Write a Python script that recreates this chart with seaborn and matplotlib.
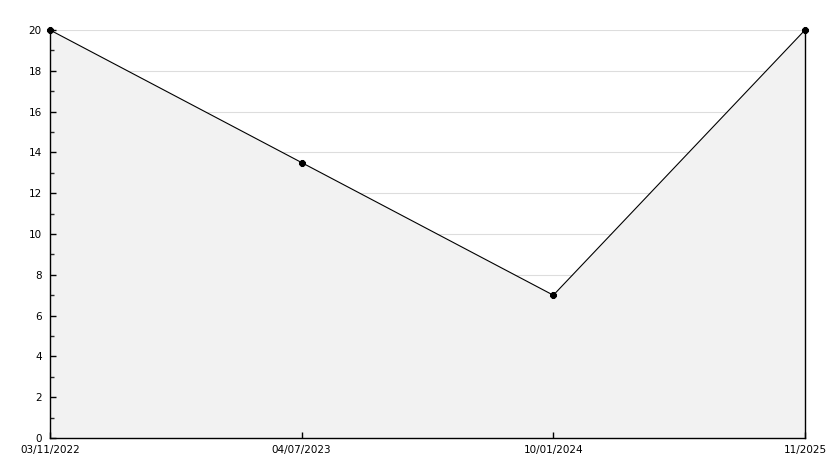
import numpy as np
import pandas as pd
import matplotlib
matplotlib.use("Agg")
import matplotlib.pyplot as plt
import seaborn as sns
from matplotlib.ticker import MultipleLocator

# Data
dates = ["03/11/2022", "04/07/2023", "10/01/2024", "11/2025"]
values = [20, 13.5, 7, 20]

df = pd.DataFrame({"pos": np.arange(len(dates)), "value": values})

sns.set_style("white")
plt.rcParams["font.family"] = ["DejaVu Sans"]
plt.rcParams["xtick.direction"] = "in"
plt.rcParams["ytick.direction"] = "in"

fig = plt.figure(figsize=(8.34, 4.68), dpi=100)
ax = fig.add_axes([50 / 834, 1 - 438 / 468, (805 - 50) / 834, (438 - 30) / 468])

# ticks above the fill, grid lines below it
ax.set_axisbelow("line")
ax.grid(False)
for y in range(2, 21, 2):
    ax.axhline(y, color="#dddddd", linewidth=0.8, zorder=0.5)

ax.fill_between(df["pos"], df["value"], 0, color="#f2f2f2", zorder=1, linewidth=0)
sns.lineplot(data=df, x="pos", y="value", ax=ax, color="black", linewidth=0.8,
             marker="8", markersize=5, markeredgecolor="black", zorder=3,
             clip_on=False)

ax.set_xlim(0, len(dates) - 1)
ax.set_ylim(0, 20)
ax.set_xticks(df["pos"])
ax.set_xticklabels(dates)
ax.yaxis.set_major_locator(MultipleLocator(2))
ax.yaxis.set_minor_locator(MultipleLocator(1))
ax.set_xlabel("")
ax.set_ylabel("")

ax.tick_params(axis="y", which="major", direction="in", length=4, width=1,
               labelsize=7.5, colors="black", pad=6, left=True)
ax.tick_params(axis="y", which="minor", direction="in", length=3, width=1, left=True)
ax.tick_params(axis="x", which="major", direction="in", length=4, width=1,
               labelsize=7.5, colors="black", pad=5, bottom=True)

for side in ["left", "bottom", "right"]:
    ax.spines[side].set_visible(True)
    ax.spines[side].set_color("black")
    ax.spines[side].set_linewidth(1)
ax.spines["top"].set_visible(False)

fig.savefig("out.png", dpi=100)
